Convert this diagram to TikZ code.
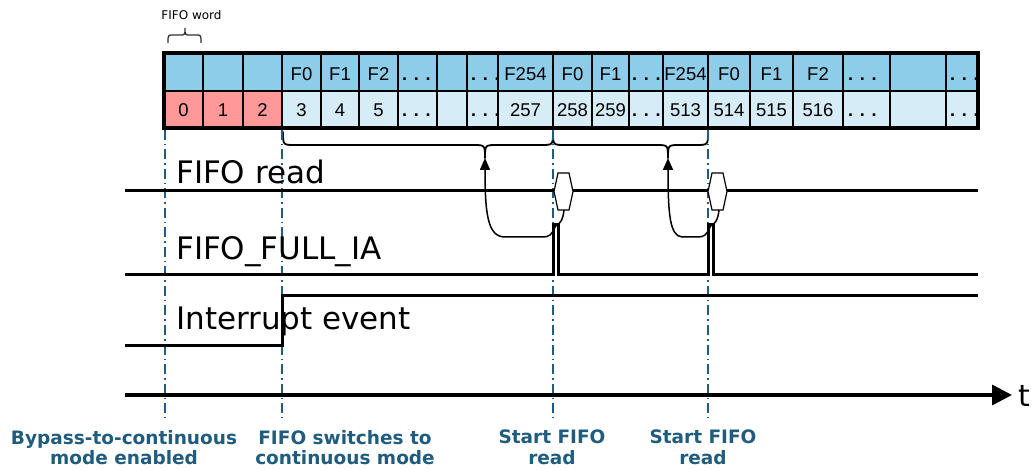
\documentclass[tikz,border=0pt]{standalone}
\usepackage{fontspec}
\setmainfont{DejaVu Sans}
\newfontfamily\arialf{Liberation Sans}
\usetikzlibrary{arrows.meta}
\definecolor{cellblue}{RGB}{142,205,234}
\definecolor{celllight}{RGB}{214,236,247}
\definecolor{cellpink}{RGB}{255,153,153}
\definecolor{markblue}{RGB}{31,92,125}
\begin{document}
\begin{tikzpicture}[x=1pt,y=-1pt,
  sig/.style={line width=3pt, line join=miter},
  cellline/.style={line width=1.8pt},
  marker/.style={draw=markblue, line width=1.5pt, dash pattern=on 10pt off 4pt on 1.5pt off 4pt},
  celltxt/.style={font=\arialf\fontsize{18.5}{20}\selectfont, inner sep=0pt, anchor=base},
  dotstxt/.style={font=\arialf\bfseries\fontsize{18}{20}\selectfont, inner sep=0pt, anchor=base west},
  siglabel/.style={font=\fontsize{31}{34}\selectfont, inner sep=0pt, anchor=base west},
  evlabel/.style={font=\bfseries\fontsize{18.5}{20.5}\selectfont, text=markblue, align=center, inner sep=0pt, anchor=north},
  hexa/.style={draw=black, fill=white, line width=1.2pt},
  bracestyle/.style={line width=1.8pt, line cap=round, line join=round},
  trig/.style={line width=1.5pt, -{Triangle[length=12pt,width=10pt]}},
]
\useasboundingbox (0,0) rectangle (1036,470);

% ---------- table ----------
\fill[cellblue] (164,53) rectangle (978,91);
\fill[celllight] (164,91) rectangle (978,128);
\fill[cellpink] (164,91) rectangle (282,128);
\foreach \x in {203,243,282,321,359,398,437,467,498,553,592,629,663,708,750,793,843,890,946}
  \draw[cellline] (\x,53) -- (\x,128);
\draw[cellline] (164,91) -- (978,91);
\draw[line width=4pt] (164,53) rectangle (978,128);

% top row labels
\node[celltxt] (t4)  at (301.5,81) {F0};
\node[celltxt] (t5)  at (340,81) {F1};
\node[celltxt] (t6)  at (378.5,81) {F2};
\node[dotstxt] (t7)  at (402,81) {. . .};
\node[dotstxt] (t9)  at (471,81) {. . .};
\node[celltxt] (t10) at (525.5,81) {F254};
\node[celltxt] (t11) at (572.5,81) {F0};
\node[celltxt] (t12) at (610.5,81) {F1};
\node[dotstxt] (t13) at (632,81) {. . .};
\node[celltxt] (t14) at (685.5,81) {F254};
\node[celltxt] (t15) at (729,81) {F0};
\node[celltxt] (t16) at (771.5,81) {F1};
\node[celltxt] (t17) at (818,81) {F2};
\node[dotstxt] (t18) at (848,81) {. . .};
\node[dotstxt] (t20) at (950,81) {. . .};
% bottom row labels
\node[celltxt] (b1)  at (183.5,117) {0};
\node[celltxt] (b2)  at (223,117) {1};
\node[celltxt] (b3)  at (262.5,117) {2};
\node[celltxt] (b4)  at (301.5,117) {3};
\node[celltxt] (b5)  at (340,117) {4};
\node[celltxt] (b6)  at (378.5,117) {5};
\node[dotstxt] (b7)  at (402,117) {. . .};
\node[dotstxt] (b9)  at (471,117) {. . .};
\node[celltxt] (b10) at (525.5,117) {257};
\node[celltxt] (b11) at (572.5,117) {258};
\node[celltxt] (b12) at (610.5,117) {259};
\node[dotstxt] (b13) at (632,117) {. . .};
\node[celltxt] (b14) at (685.5,117) {513};
\node[celltxt] (b15) at (729,117) {514};
\node[celltxt] (b16) at (771.5,117) {515};
\node[celltxt] (b17) at (818,117) {516};
\node[dotstxt] (b18) at (848,117) {. . .};
\node[dotstxt] (b20) at (950,117) {. . .};

% FIFO word brace
\node[font=\fontsize{12}{14}\selectfont, inner sep=0pt, anchor=base] (fw) at (191.5,20) {FIFO word};
\draw[line width=1.3pt, draw=black!80] (168,43) .. controls (168,35) .. (173,35) -- (180,35)
  .. controls (185,35) .. (185,28) .. controls (185,35) .. (190,35) -- (196,35)
  .. controls (201,35) .. (201,43);

% braces under table
\coordinate (braceA) at (485,158);
\coordinate (braceB) at (668,158);
\draw[bracestyle] (283,132) .. controls (283,145) .. (295,145) -- (473,145)
  .. controls (485,145) .. (braceA) .. controls (485,145) .. (497,145) -- (541,145)
  .. controls (553,145) .. (553,132);
\draw[bracestyle] (553,132) .. controls (553,145) .. (565,145) -- (656,145)
  .. controls (668,145) .. (braceB) .. controls (668,145) .. (680,145) -- (696,145)
  .. controls (708,145) .. (708,132);

% ---------- event markers ----------
\foreach \x in {165,282,553,708}
  \draw[marker] (\x,130) -- (\x,418);

% ---------- signals ----------
\node[siglabel] (lread) at (176,184) {FIFO read};
\node[siglabel] (lfull) at (176,260) {FIFO\_FULL\_IA};
\node[siglabel] (lint)  at (176,330) {Interrupt event};

\coordinate (rdS) at (125,191);
\coordinate (rdE) at (978,191);
\draw[sig] (rdS) -- (rdE);

\coordinate (pulseA) at (555.5,226);
\coordinate (pulseB) at (710.5,226);
\draw[sig] (125,275) -- (553,275) -- (553,225) -- (558,225) -- (558,275)
  -- (708,275) -- (708,225) -- (713,225) -- (713,275) -- (978,275);

\draw[sig] (125,345) -- (282,345) -- (282,296) -- (978,296);

% hexagons
\draw[hexa] (558,173) -- (569,173) -- (573,191.5) -- (569,210) -- (558,210) -- (554,191.5) -- cycle;
\draw[hexa] (712,173) -- (723,173) -- (727,191.5) -- (723,210) -- (712,210) -- (708,191.5) -- cycle;
\coordinate (hexAb) at (564,210);
\coordinate (hexBb) at (719,210);

% trigger arrows
\draw[trig] (hexAb) .. controls (563,220) and (560,224) .. (pulseA)
  .. controls (552,235) and (549,237) .. (543,237) -- (504,237)
  .. controls (488,236) and (485,215) .. (braceA);
\draw[trig] (hexBb) .. controls (718,220) and (715,224) .. (pulseB)
  .. controls (707,235) and (704,237) .. (698,237) -- (682,237)
  .. controls (670,236) and (668,215) .. (braceB);

% time axis
\coordinate (axS) at (125,395);
\coordinate (axE) at (1012,395);
\draw[line width=3.5pt, -{Triangle[length=20pt,width=20pt]}] (axS) -- (axE);
\node[font=\fontsize{30}{34}\selectfont, inner sep=0pt, anchor=base west] (tl) at (1018,406) {t};

% event labels
\node[evlabel] (e1) at (124,430) {Bypass-to-continuous\\mode enabled};
\node[evlabel] (e2) at (345,430) {FIFO switches to\\continuous mode};
\node[evlabel] (e3) at (552,430) {Start FIFO\\read};
\node[evlabel] (e4) at (703,430) {Start FIFO\\read};
\end{tikzpicture}
\end{document}
